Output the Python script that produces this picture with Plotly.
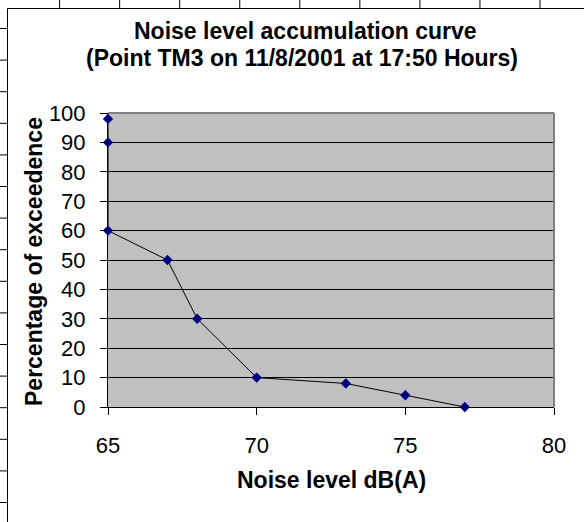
import plotly.graph_objects as go

# ---- data ----
noise_db = [65, 65, 65, 67, 68, 70, 73, 75, 77]
exceed_pct = [98, 90, 60, 50, 30, 10, 8, 4, 0]
x_ticks = [65, 70, 75, 80]
y_ticks = [0, 10, 20, 30, 40, 50, 60, 70, 80, 90, 100]
title_line1 = "Noise level accumulation curve"
title_line2 = "(Point TM3 on 11/8/2001 at 17:50 Hours)"
x_title = "Noise level dB(A)"
y_title = "Percentage of exceedence"

W, H = 584, 522
ML, MR, MT, MB = 108, 30, 113, 115
PW, PH = W - ML - MR, H - MT - MB
FONT = "Liberation Sans, Arial, sans-serif"


def px(x):
    return (x - ML) / PW


def py(y):
    return (H - MB - y) / PH


fig = go.Figure()
fig.add_trace(go.Scatter(
    x=noise_db, y=exceed_pct, mode="lines+markers",
    line=dict(color="black", width=1),
    marker=dict(symbol="diamond", size=8, color="#000080"),
    showlegend=False, cliponaxis=False,
))

shapes = []
# spreadsheet cell grid outside the chart object
col_x = [59.6 + 60.05 * k for k in range(9)]
row_y = [28.5 + 31.6 * k for k in range(16)]
for cx in col_x:
    shapes.append(dict(type="line", xref="paper", yref="paper", x0=px(cx), x1=px(cx),
                       y0=py(0), y1=py(8.5), line=dict(color="black", width=1)))
for ry in row_y:
    shapes.append(dict(type="line", xref="paper", yref="paper", x0=px(0), x1=px(7),
                       y0=py(ry), y1=py(ry), line=dict(color="black", width=1)))
# chart area border
shapes.append(dict(type="line", xref="paper", yref="paper", x0=px(7.5), x1=px(7.5),
                   y0=py(8.5), y1=py(H), line=dict(color="black", width=1)))
shapes.append(dict(type="line", xref="paper", yref="paper", x0=px(7.5), x1=px(W),
                   y0=py(8.5), y1=py(8.5), line=dict(color="black", width=1)))
# plot area top/right border (grey)
shapes.append(dict(type="line", xref="paper", yref="paper", x0=0, x1=1, y0=1, y1=1,
                   line=dict(color="#808080", width=2), layer="above"))
shapes.append(dict(type="line", xref="paper", yref="paper", x0=1, x1=1, y0=0, y1=1,
                   line=dict(color="#808080", width=2), layer="above"))

TF = dict(family=FONT, size=23, color="black")
annotations = [
    dict(text="<b>" + title_line1 + "</b>", xref="paper", yref="paper", x=px(305), y=py(31),
         xanchor="center", yanchor="middle", showarrow=False, font=TF),
    dict(text="<b>" + title_line2 + "</b>", xref="paper", yref="paper", x=px(302), y=py(57.5),
         xanchor="center", yanchor="middle", showarrow=False, font=TF),
    dict(text="<b>" + x_title + "</b>", xref="paper", yref="paper", x=px(331), y=py(480),
         xanchor="center", yanchor="middle", showarrow=False, font=TF),
    dict(text="<b>" + y_title + "</b>", xref="paper", yref="paper", x=px(34), y=py(262),
         xanchor="center", yanchor="middle", showarrow=False, textangle=-90, font=TF),
]

fig.update_layout(
    width=W, height=H,
    margin=dict(l=ML, r=MR, t=MT, b=MB, pad=0),
    paper_bgcolor="white", plot_bgcolor="#C0C0C0",
    font=dict(family=FONT, size=22, color="black"),
    shapes=shapes, annotations=annotations,
    xaxis=dict(range=[65, 80], tickvals=x_ticks, showgrid=False, zeroline=False,
               showline=True, linecolor="black", linewidth=1,
               ticks="outside", ticklen=7, tickcolor="black", tickwidth=1,
               ticklabelstandoff=12, tickfont=dict(size=22)),
    yaxis=dict(range=[0, 100], tickvals=y_ticks, showgrid=True, gridcolor="black", gridwidth=1,
               zeroline=False, showline=True, linecolor="black", linewidth=1,
               ticks="outside", ticklen=7, tickcolor="black", tickwidth=1,
               ticklabelstandoff=10, tickfont=dict(size=22)),
)

fig.write_html("out.html")
